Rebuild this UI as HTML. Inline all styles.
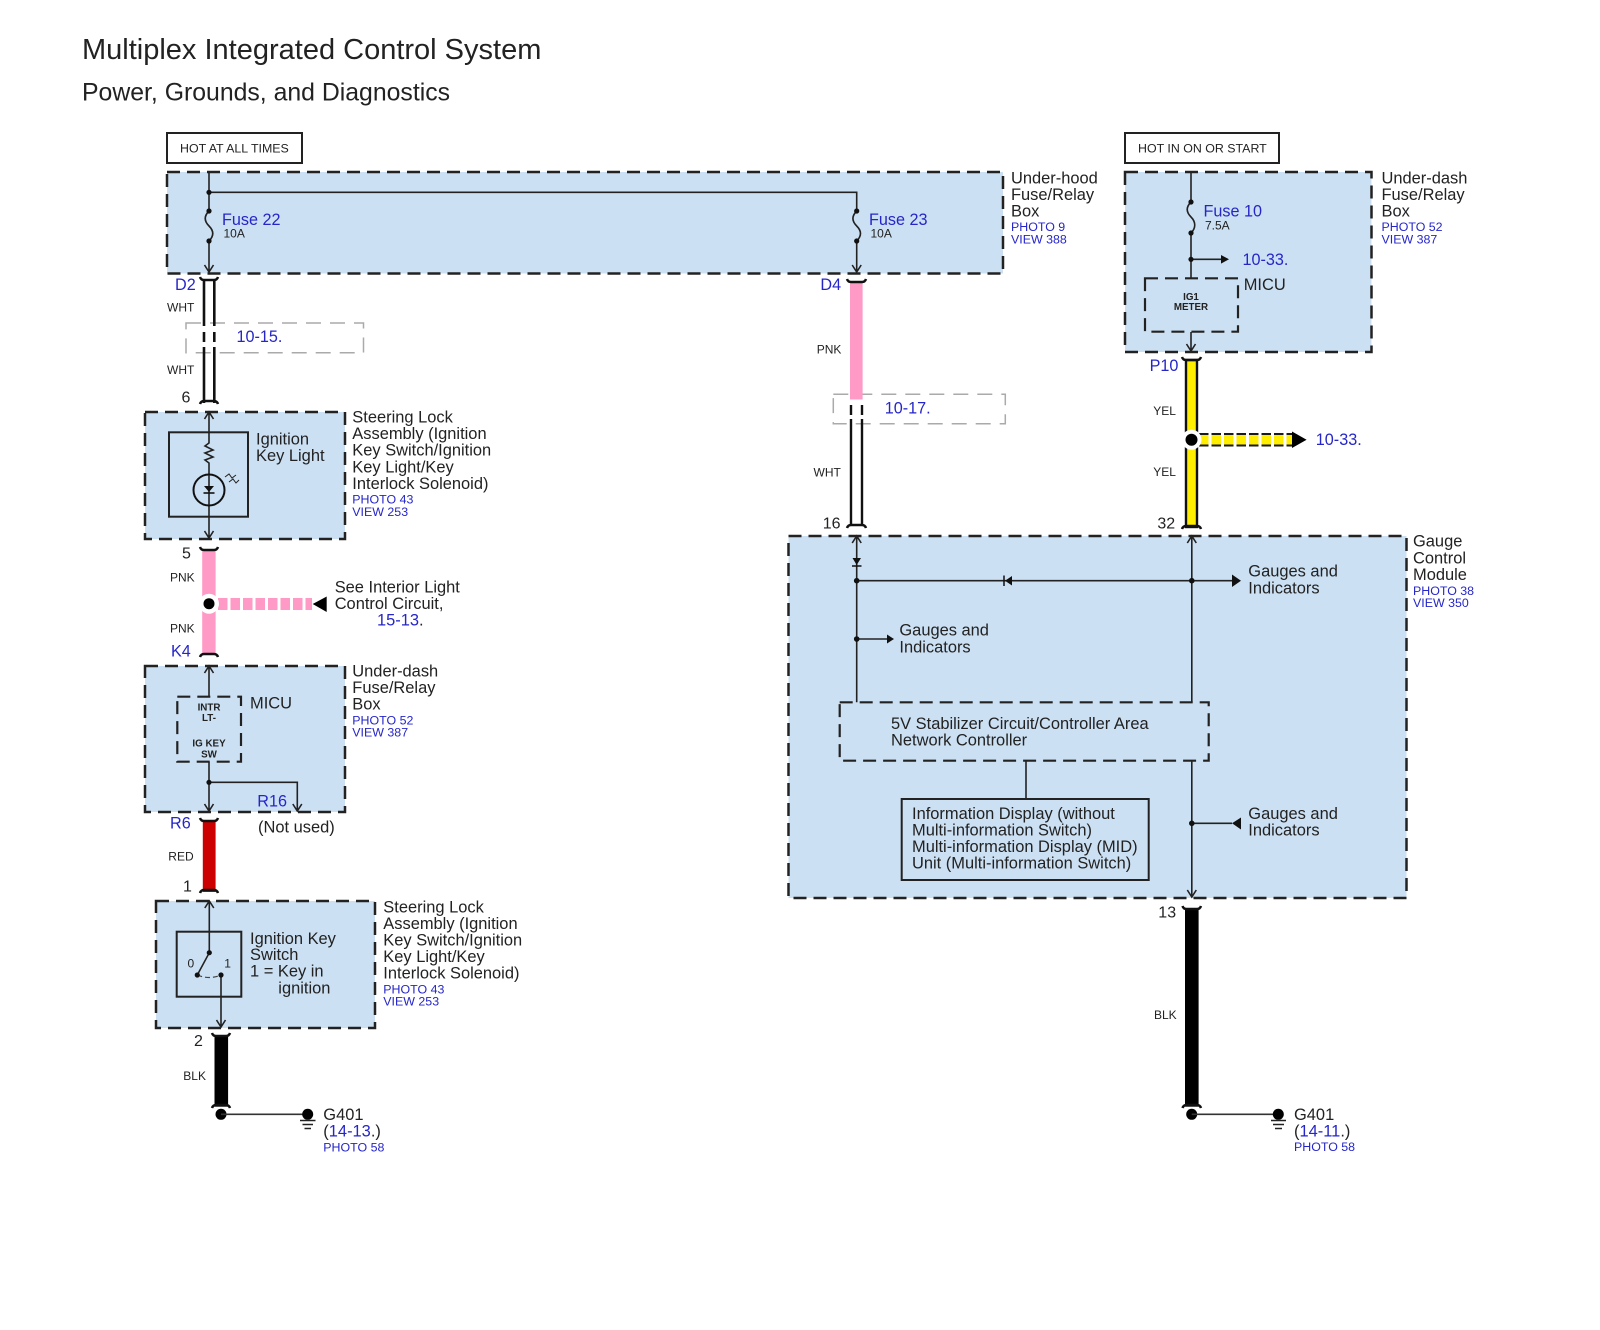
<!DOCTYPE html>
<html><head><meta charset="utf-8"><title>Multiplex Integrated Control System</title>
<style>
html,body{margin:0;padding:0;background:#fff;width:1600px;height:1330px;overflow:hidden}
svg{display:block;filter:blur(.35px)}
text{font-family:"Liberation Sans",sans-serif;fill:#222;font-size:16.45px}
.b{fill:#2626c8}
.s{font-size:12.4px}
.w{font-size:12px}
.h{font-size:12.4px}
.t{font-size:9.8px;font-weight:bold;text-anchor:middle}
.f{font-size:16.2px}
.box{fill:#cce0f3;stroke:#222;stroke-width:2.5;stroke-dasharray:13 7}
.in{fill:none;stroke:#222;stroke-width:2.2;stroke-dasharray:13 7}
.g{fill:#fff;fill-opacity:.9;stroke:#aaa;stroke-width:1.5;stroke-dasharray:15 9}
.l{fill:none;stroke:#222;stroke-width:1.6}
.c{fill:none;stroke:#111;stroke-width:2.5}
.r{fill:none;stroke:#222;stroke-width:2}
</style></head><body>
<svg width="1600" height="1330" viewBox="0 0 1600 1330" xmlns="http://www.w3.org/2000/svg">
<rect width="1600" height="1330" fill="#fff"/>
<text x="82" y="59" style="font-size:29px">Multiplex Integrated Control System</text>
<text x="82" y="100.5" style="font-size:24.8px">Power, Grounds, and Diagnostics</text>

<!-- hot labels -->
<rect x="167" y="133" width="135" height="30" class="r" fill="#fff"/>
<text x="180" y="152.5" class="h">HOT AT ALL TIMES</text>
<rect x="1125" y="133" width="154" height="30" class="r" fill="#fff"/>
<text x="1138" y="152.5" class="h">HOT IN ON OR START</text>

<!-- boxes -->
<rect x="167" y="172" width="836" height="101.5" class="box"/>
<rect x="1125" y="172" width="246.5" height="180" class="box"/>
<rect x="145" y="412" width="200" height="127" class="box"/>
<rect x="145" y="666" width="200" height="146" class="box"/>
<rect x="156" y="901" width="219" height="127" class="box"/>
<rect x="788.5" y="536" width="618" height="362" class="box"/>

<!-- hood internals -->
<path class="l" d="M209 172V211M209 241V272M209 192.3H856.7V211M856.7 241V272M204.5 265L209 272L213.5 265M852.2 265L856.7 272L861.2 265"/>
<path class="l" d="M209 211C204 216 204 221 209 226S214 236 209 241M856.7 211C851.7 216 851.7 221 856.7 226S861.7 236 856.7 241"/>
<g fill="#111"><circle cx="209" cy="192.3" r="2.6"/><circle cx="209" cy="211" r="2.6"/><circle cx="209" cy="241" r="2.6"/><circle cx="856.7" cy="211" r="2.6"/><circle cx="856.7" cy="241" r="2.6"/></g>
<text x="222" y="225" class="b f">Fuse 22</text>
<text x="223.5" y="237.5" class="w">10A</text>
<text x="869" y="225" class="b f">Fuse 23</text>
<text x="870.5" y="237.5" class="w">10A</text>
<text x="1011" y="183.3">Under-hood</text><text x="1011" y="200">Fuse/Relay</text><text x="1011" y="216.7">Box</text>
<text x="1011" y="231" class="b s">PHOTO 9</text><text x="1011" y="243.3" class="b s">VIEW 388</text>

<!-- under-dash top right -->
<path class="l" d="M1191 172V202M1191 233V278M1191 259.3H1222M1191 332V351M1186.5 344L1191 351L1195.5 344"/>
<path class="l" d="M1191 202C1186 207 1186 212 1191 217S1196 228 1191 233"/>
<g fill="#111"><circle cx="1191" cy="202" r="2.6"/><circle cx="1191" cy="233" r="2.6"/><circle cx="1191" cy="259.3" r="2.6"/><path d="M1221 255L1229 259.3L1221 263.6Z"/></g>
<rect x="1145" y="278.3" width="93" height="53.4" class="in"/>
<text x="1203.5" y="216.7" class="b f">Fuse 10</text>
<text x="1205" y="229.3" class="w">7.5A</text>
<text x="1242.5" y="265" class="b f">10-33.</text>
<text x="1243.7" y="290">MICU</text>
<text x="1191" y="300" class="t">IG1</text><text x="1191" y="310" class="t">METER</text>
<text x="1381.5" y="183.3">Under-dash</text><text x="1381.5" y="200">Fuse/Relay</text><text x="1381.5" y="216.7">Box</text>
<text x="1381.5" y="231" class="b s">PHOTO 52</text><text x="1381.5" y="243.3" class="b s">VIEW 387</text>

<!-- D2 wire -->
<rect x="186" y="323" width="177.5" height="29.7" class="g"/>
<path d="M204 280V326M204 332V342M204 347V403M214.3 280V326M214.3 332V342M214.3 347V403" stroke="#111" stroke-width="2.6" fill="none"/>
<path class="c" d="M200 277Q201 280 204 280H214Q217 280 218 277M200 404Q201 401 204 401H214Q217 401 218 404"/>
<text x="175" y="290" class="b f">D2</text>
<text x="167" y="311.5" class="w">WHT</text><text x="167" y="374" class="w">WHT</text>
<text x="236.5" y="342" class="b f">10-15.</text>
<text x="181.5" y="402.5" style="font-size:16px">6</text>

<!-- steering lock 1 -->
<rect x="169" y="432.3" width="79" height="84.4" class="r"/>
<path class="l" d="M209 412V443L205 446L213 450L205 453L213 457L205 460L209 463V475M209 505V538M204.5 419L209 412L213.5 419M204.5 531L209 538L213.5 531"/>
<circle cx="209" cy="490" r="15.5" fill="none" stroke="#111" stroke-width="2"/>
<path d="M209 475V505" class="l"/>
<path d="M204 486H214L209 492Z" fill="#111"/><path d="M203.5 493H214.5" stroke="#111" stroke-width="1.6"/>
<path d="M225 477L229 474L232 478L236 475M229 482L233 479L236 483L239 480" fill="none" stroke="#222" stroke-width="1"/>
<text x="256" y="444.3">Ignition</text><text x="256" y="461">Key Light</text>
<text x="352.3" y="422.7">Steering Lock</text><text x="352.3" y="439">Assembly (Ignition</text><text x="352.3" y="455.7">Key Switch/Ignition</text><text x="352.3" y="472.3">Key Light/Key</text><text x="352.3" y="489">Interlock Solenoid)</text>
<text x="352.3" y="503.3" class="b s">PHOTO 43</text><text x="352.3" y="516" class="b s">VIEW 253</text>

<!-- pink wire left -->
<rect x="202.2" y="550" width="13.4" height="105" fill="#ff99c6"/>
<path class="c" d="M200 547Q201 550 204 550H214Q217 550 218 547M200 657Q201 654 204 654H214Q217 654 218 657"/>
<path d="M218 604H312" stroke="#ff99c6" stroke-width="12" stroke-dasharray="9.5 3" fill="none"/>
<circle cx="209" cy="603.7" r="10" fill="#fff"/><circle cx="209" cy="603.7" r="5.5" fill="#000"/>
<path d="M312.7 604L326.7 596.5V612Z" fill="#000"/>
<text x="182" y="558.7" style="font-size:16px">5</text>
<text x="170" y="581.7" class="w">PNK</text><text x="170" y="632.3" class="w">PNK</text>
<text x="171" y="656.7" class="b f">K4</text>
<text x="334.7" y="592.7">See Interior Light</text><text x="334.7" y="609">Control Circuit,</text>
<text x="377" y="625.7" class="b">15-13<tspan style="fill:#222">.</tspan></text>

<!-- MICU left -->
<rect x="177.3" y="696.7" width="63.7" height="65" class="in"/>
<path class="l" d="M209 666V697M209 762V811M209 782.3H297.3V811M204.5 673L209 666L213.5 673M204.5 804L209 811L213.5 804M292.8 804L297.3 811L301.8 804"/>
<circle cx="209" cy="782.3" r="2.6" fill="#111"/>
<text x="209" y="710.7" class="t">INTR</text><text x="209" y="721" class="t">LT-</text><text x="209" y="746.7" class="t">IG KEY</text><text x="209" y="757.3" class="t">SW</text>
<text x="250" y="708.3">MICU</text>
<text x="257.3" y="806.7" class="b f">R16</text>
<text x="258" y="832.3">(Not used)</text>
<text x="352.3" y="676.7">Under-dash</text><text x="352.3" y="693">Fuse/Relay</text><text x="352.3" y="709.7">Box</text>
<text x="352.3" y="724.3" class="b s">PHOTO 52</text><text x="352.3" y="736.7" class="b s">VIEW 387</text>

<!-- red wire -->
<rect x="202.8" y="821" width="12.8" height="71" fill="#cc0000"/>
<path class="c" d="M200 818Q201 821 204 821H214Q217 821 218 818M200 893Q201 890 204 890H214Q217 890 218 893"/>
<text x="170" y="828.3" class="b f">R6</text>
<text x="168.3" y="860.7" class="w">RED</text>
<text x="183" y="891.7" style="font-size:16px">1</text>

<!-- steering lock 2 -->
<rect x="176.7" y="931.7" width="64.6" height="65" class="r"/>
<path class="l" d="M209.3 901V952.7L197.3 975M221 975V1027M204.8 908L209.3 901L213.8 908M216.5 1020L221 1027L225.5 1020"/>
<path d="M197.3 975Q209 980 221 975" fill="none" stroke="#444" stroke-width="1.2" stroke-dasharray="5 3"/>
<g fill="#111"><circle cx="209.3" cy="952.7" r="2.6"/><circle cx="197.3" cy="975" r="2.6"/><circle cx="221" cy="975" r="2.6"/></g>
<text x="187.5" y="967.7" class="w">0</text><text x="224.3" y="967.7" class="w">1</text>
<text x="250" y="944">Ignition Key</text><text x="250" y="960">Switch</text><text x="250" y="976.7">1 = Key in</text><text x="278.3" y="993.3">ignition</text>
<text x="383.3" y="912.7">Steering Lock</text><text x="383.3" y="929">Assembly (Ignition</text><text x="383.3" y="945.7">Key Switch/Ignition</text><text x="383.3" y="962">Key Light/Key</text><text x="383.3" y="978.7">Interlock Solenoid)</text>
<text x="383.3" y="993.3" class="b s">PHOTO 43</text><text x="383.3" y="1005.7" class="b s">VIEW 253</text>

<!-- black wire left -->
<rect x="214.5" y="1035" width="13.6" height="71.7" fill="#000"/>
<path class="c" d="M212 1033Q213 1036 216 1036H226Q229 1036 230 1033M212 1108Q213 1105 216 1105H226Q229 1105 230 1108"/>
<text x="194" y="1046" style="font-size:16px">2</text>
<text x="183.3" y="1080" class="w">BLK</text>
<circle cx="221" cy="1114.3" r="5.5" fill="#000"/>
<path d="M221 1114.3H307.7" stroke="#333" stroke-width="1.6"/>
<circle cx="307.7" cy="1114.3" r="5.5" fill="#000"/>
<path d="M300 1120.5H315.5M302.5 1124.5H313M304.5 1128.5H311" stroke="#222" stroke-width="1.4"/>
<text x="323.3" y="1120">G401</text>
<text x="323.3" y="1136.7">(<tspan class="b">14-13</tspan>.)</text>
<text x="323.3" y="1151.5" class="b s">PHOTO 58</text>

<!-- D4 wire -->
<rect x="833.3" y="394.3" width="172" height="29.4" class="g"/>
<rect x="850" y="282" width="12.6" height="117.5" fill="#ff99c6"/>
<path class="c" d="M847 279Q848 282 851 282H862Q865 282 866 279"/>
<path d="M851 405V415M851 419V526M862 405V415M862 419V526" stroke="#111" stroke-width="2.4" fill="none"/>
<path class="c" d="M847 528Q848 525 851 525H862Q865 525 866 528"/>
<text x="820.4" y="290" class="b f">D4</text>
<text x="816.7" y="353.3" class="w">PNK</text>
<text x="813.5" y="476.7" class="w">WHT</text>
<text x="884.7" y="413.3" class="b f">10-17.</text>
<text x="822.7" y="528.3" style="font-size:16px">16</text>

<!-- P10 wire -->
<rect x="1186" y="360" width="11" height="167" fill="#ffee00" stroke="#111" stroke-width="2.4"/>
<path class="c" d="M1182 357Q1183 360 1186 360H1197Q1200 360 1201 357M1182 529Q1183 526 1186 526H1197Q1200 526 1201 529"/>
<path d="M1199 439.7H1292" stroke="#ffee00" stroke-width="12" stroke-dasharray="9.5 3" fill="none"/>
<path d="M1199 434H1292M1199 445.5H1292" stroke="#1a1a1a" stroke-width="2" stroke-dasharray="9.5 3" fill="none"/>
<circle cx="1191.5" cy="439.7" r="10" fill="#fff"/><circle cx="1191.5" cy="439.7" r="6" fill="#000"/>
<path d="M1292 431.5L1306.6 439.7L1292 448Z" fill="#000"/>
<text x="1149.6" y="371" class="b f">P10</text>
<text x="1153.3" y="415" class="w">YEL</text><text x="1153.3" y="476" class="w">YEL</text>
<text x="1315.8" y="445" class="b f">10-33.</text>
<text x="1157.4" y="528.3" style="font-size:16px">32</text>

<!-- gauge internals -->
<path class="l" d="M856.7 536V702.3M1191.8 536V702.3M1191.8 761V897M856.7 580.7H1232M856.7 639H888M1191.8 823.3H1232M1026 761V799"/>
<path class="l" d="M852.2 543L856.7 536L861.2 543M1187.3 543L1191.8 536L1196.3 543M1187.3 890L1191.8 897L1196.3 890"/>
<g fill="#111">
<path d="M852.5 558H861L856.7 565Z"/><path d="M852 566H861.5" stroke="#111" stroke-width="1.5"/>
<path d="M1012 576L1005 580.7L1012 585.5Z"/><path d="M1004 575.5V586" stroke="#111" stroke-width="1.5"/>
<circle cx="856.7" cy="580.7" r="2.8"/><circle cx="1191.8" cy="580.7" r="2.8"/><circle cx="856.7" cy="639" r="2.8"/><circle cx="1191.8" cy="823.3" r="2.8"/>
<path d="M1232 574.5L1241 580.7L1232 587Z"/>
<path d="M887 634.5L894 639L887 643.5Z"/>
<path d="M1232 823.3L1241 817.5V829.5Z"/>
</g>
<rect x="839.7" y="702.3" width="369" height="58.4" class="in"/>
<rect x="901.7" y="799" width="247" height="81" class="r"/>
<text x="1248.3" y="576.7">Gauges and</text><text x="1248.3" y="593.3">Indicators</text>
<text x="899.4" y="635.7">Gauges and</text><text x="899.4" y="652.3">Indicators</text>
<text x="1248.3" y="819">Gauges and</text><text x="1248.3" y="835.7">Indicators</text>
<text x="891" y="729">5V Stabilizer Circuit/Controller Area</text><text x="891" y="745.7">Network Controller</text>
<text x="912" y="819">Information Display (without</text><text x="912" y="835.7">Multi-information Switch)</text><text x="912" y="852">Multi-information Display (MID)</text><text x="912" y="868.7">Unit (Multi-information Switch)</text>
<text x="1413" y="546.7">Gauge</text><text x="1413" y="563.3">Control</text><text x="1413" y="580">Module</text>
<text x="1413" y="595" class="b s">PHOTO 38</text><text x="1413" y="607" class="b s">VIEW 350</text>

<!-- black wire right -->
<rect x="1185" y="908" width="13.6" height="198.7" fill="#000"/>
<path class="c" d="M1182.5 906Q1183.5 909 1186.5 909H1197Q1200 909 1201 906M1182.5 1108Q1183.5 1105 1186.5 1105H1197Q1200 1105 1201 1108"/>
<text x="1158.3" y="917.3" style="font-size:16px">13</text>
<text x="1154" y="1019" class="w">BLK</text>
<circle cx="1191.7" cy="1114.3" r="5.5" fill="#000"/>
<path d="M1191.7 1114.3H1278.3" stroke="#333" stroke-width="1.6"/>
<circle cx="1278.3" cy="1114.3" r="5.5" fill="#000"/>
<path d="M1271 1120.5H1286M1273 1124.5H1284M1275 1128.5H1282" stroke="#222" stroke-width="1.4"/>
<text x="1294" y="1120">G401</text>
<text x="1294" y="1136.7">(<tspan class="b">14-11</tspan>.)</text>
<text x="1294" y="1151" class="b s">PHOTO 58</text>
</svg>
</body></html>
